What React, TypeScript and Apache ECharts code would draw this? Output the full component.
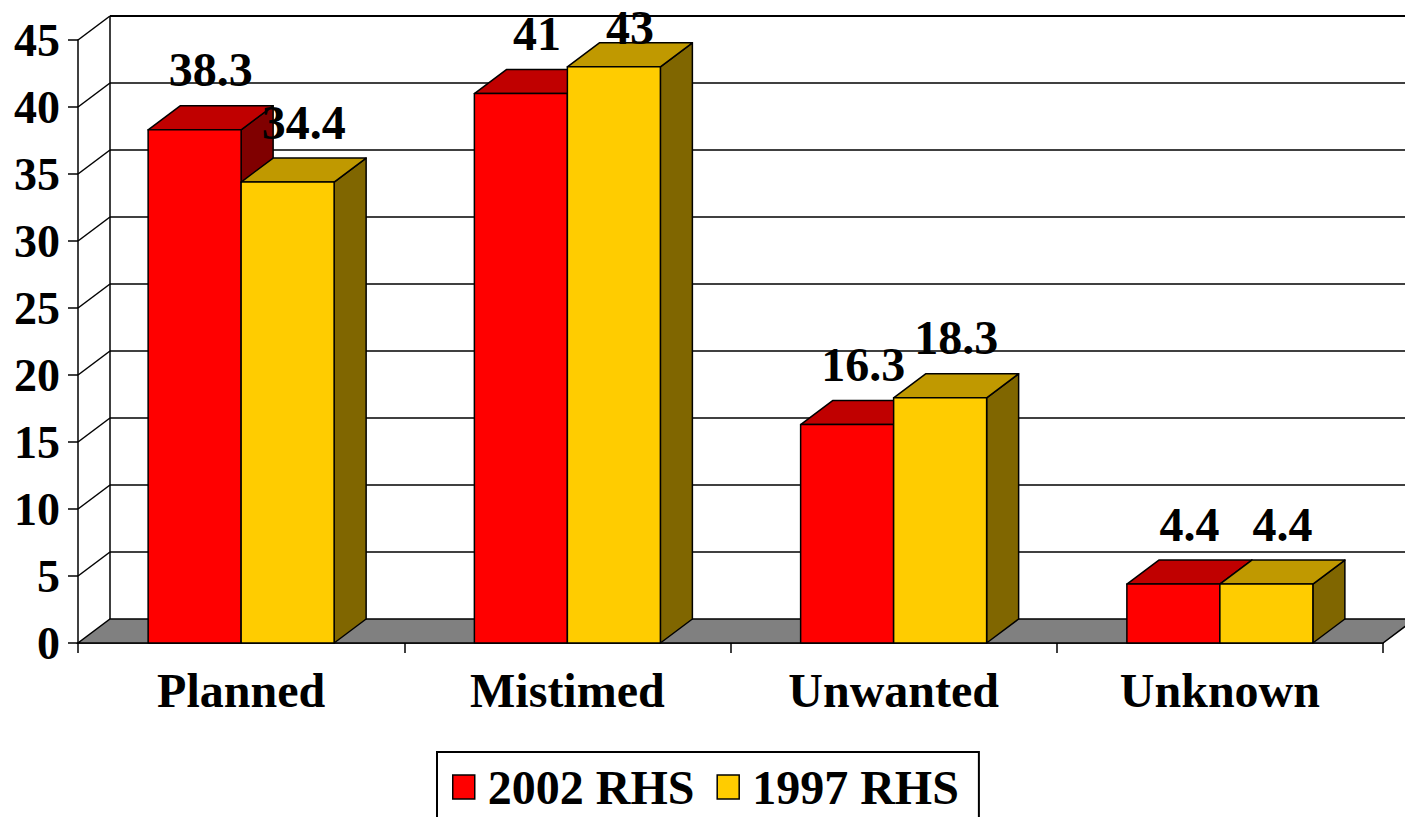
import React, { useEffect, useRef } from "react";
import * as echarts from "echarts";

const categories = ["Planned", "Mistimed", "Unwanted", "Unknown"];
const seriesNames = ["2002 RHS", "1997 RHS"];
const rhs2002 = [38.3, 41, 16.3, 4.4];
const rhs1997 = [34.4, 43, 18.3, 4.4];
const yTicks = [0, 5, 10, 15, 20, 25, 30, 35, 40, 45];

const FONT = '"Liberation Serif", "Times New Roman", serif';
const DX = 32;
const DY = 24;
const BAR_FRAC = 93 / 326.25;

const faceColors = [
  { front: "#FF0000", top: "#C00000", side: "#800000" },
  { front: "#FFCC00", top: "#C09900", side: "#806600" },
];

function makeBarRender(s: number) {
  return (params: any, api: any) => {
    const cat = api.value(0);
    const val = api.value(1);
    const top = api.coord([cat, val]);
    const base = api.coord([cat, 0]);
    const cx = top[0];
    const yTop = top[1];
    const yBase = base[1];
    const bw = api.size([1, 0])[0] * BAR_FRAC;
    const x0 = s === 0 ? cx - bw : cx;
    const x1 = x0 + bw;
    const c = faceColors[s];
    const stroke = { stroke: "#000", lineWidth: 1.5, lineJoin: "round" };
    return {
      type: "group",
      children: [
        {
          type: "polygon",
          shape: { points: [[x1, yTop], [x1 + DX, yTop - DY], [x1 + DX, yBase - DY], [x1, yBase]] },
          style: { fill: c.side, ...stroke },
        },
        {
          type: "polygon",
          shape: { points: [[x0, yTop], [x1, yTop], [x1 + DX, yTop - DY], [x0 + DX, yTop - DY]] },
          style: { fill: c.top, ...stroke },
        },
        {
          type: "rect",
          shape: { x: x0, y: yTop, width: bw, height: yBase - yTop },
          style: { fill: c.front, ...stroke },
        },
        {
          type: "text",
          x: (x0 + x1) / 2 + DX / 2,
          y: Math.max(yTop - DY - 16, 47),
          z2: 10,
          style: {
            text: String(val),
            font: `bold 48px ${FONT}`,
            lineHeight: 40,
            fill: "#000",
            align: "center",
            verticalAlign: "bottom",
          },
        },
      ],
    };
  };
}

function wallRender(params: any, api: any) {
  const cs = params.coordSys;
  const x0 = cs.x;
  const x1 = cs.x + cs.width;
  const v = api.value(1);
  const y = api.coord([0, v])[1];
  const yMaxBack = api.coord([0, yTicks[yTicks.length - 1]])[1] - DY;
  const ln = { stroke: "#000", lineWidth: 1.5 };
  if (v === 0) {
    return {
      type: "group",
      children: [
        {
          type: "polygon",
          shape: { points: [[x0, y], [x1, y], [x1 + DX, y - DY], [x0 + DX, y - DY]] },
          style: { fill: "#808080", stroke: "#000", lineWidth: 1.5 },
        },
        {
          type: "line",
          shape: { x1: x0 + DX, y1: y - DY, x2: x0 + DX, y2: yMaxBack },
          style: ln,
        },
      ],
    };
  }
  return {
    type: "group",
    children: [
      {
        type: "line",
        shape: { x1: x0 + DX, y1: y - DY, x2: x1 + DX + 20, y2: y - DY },
        style: { stroke: "#000", lineWidth: v === yTicks[yTicks.length - 1] ? 2 : 1.5 },
      },
      {
        type: "line",
        shape: { x1: x0, y1: y, x2: x0 + DX, y2: y - DY },
        style: ln,
      },
    ],
  };
}

export default function App() {
  const ref = useRef<HTMLDivElement>(null);
  useEffect(() => {
    if (!ref.current) return;
    const chart = echarts.init(ref.current, null, { renderer: "svg" });
    chart.setOption({
      animation: false,
      backgroundColor: "#fff",
      grid: { left: 78, right: 22, top: 40, bottom: 174, containLabel: false },
      legend: {
        data: seriesNames,
        left: 437,
        top: 752,
        orient: "horizontal",
        icon: "rect",
        itemWidth: 22,
        itemHeight: 24,
        itemGap: 22,
        padding: [11, 20, 30, 15],
        borderColor: "#000",
        borderWidth: 2,
        selectedMode: false,
        itemStyle: { borderColor: "#000", borderWidth: 1.5 },
        textStyle: {
          fontSize: 48,
          fontWeight: "bold",
          fontFamily: FONT,
          color: "#000",
          padding: [0, 0, 0, 8],
        },
      },
      xAxis: {
        type: "category",
        data: categories,
        axisLine: { show: true, lineStyle: { color: "#000", width: 1.5 } },
        axisTick: { show: true, length: 10, lineStyle: { color: "#000", width: 1.5 } },
        axisLabel: {
          fontSize: 48,
          fontWeight: "bold",
          fontFamily: FONT,
          color: "#000",
          margin: 23,
        },
        splitLine: { show: false },
      },
      yAxis: {
        type: "value",
        min: yTicks[0],
        max: yTicks[yTicks.length - 1],
        interval: 5,
        axisLine: { show: true, lineStyle: { color: "#000", width: 1.5 } },
        axisTick: { show: true, length: 10, lineStyle: { color: "#000", width: 1.5 } },
        axisLabel: {
          fontSize: 46,
          fontWeight: "bold",
          fontFamily: FONT,
          color: "#000",
          margin: 18,
        },
        splitLine: { show: false },
      },
      series: [
        {
          type: "custom",
          name: "walls",
          coordinateSystem: "cartesian2d",
          clip: false,
          silent: true,
          z: 1,
          renderItem: wallRender,
          data: yTicks.map((v) => [0, v]),
        },
        {
          type: "custom",
          name: seriesNames[0],
          coordinateSystem: "cartesian2d",
          clip: false,
          z: 3,
          itemStyle: { color: faceColors[0].front },
          renderItem: makeBarRender(0),
          data: rhs2002.map((v, i) => [i, v]),
        },
        {
          type: "custom",
          name: seriesNames[1],
          coordinateSystem: "cartesian2d",
          clip: false,
          z: 4,
          itemStyle: { color: faceColors[1].front },
          renderItem: makeBarRender(1),
          data: rhs1997.map((v, i) => [i, v]),
        },
      ],
    });
    return () => chart.dispose();
  }, []);
  return (
    <div
      ref={ref}
      style={{ position: "fixed", left: 0, top: 0, width: 1405, height: 817, background: "#fff" }}
    />
  );
}
